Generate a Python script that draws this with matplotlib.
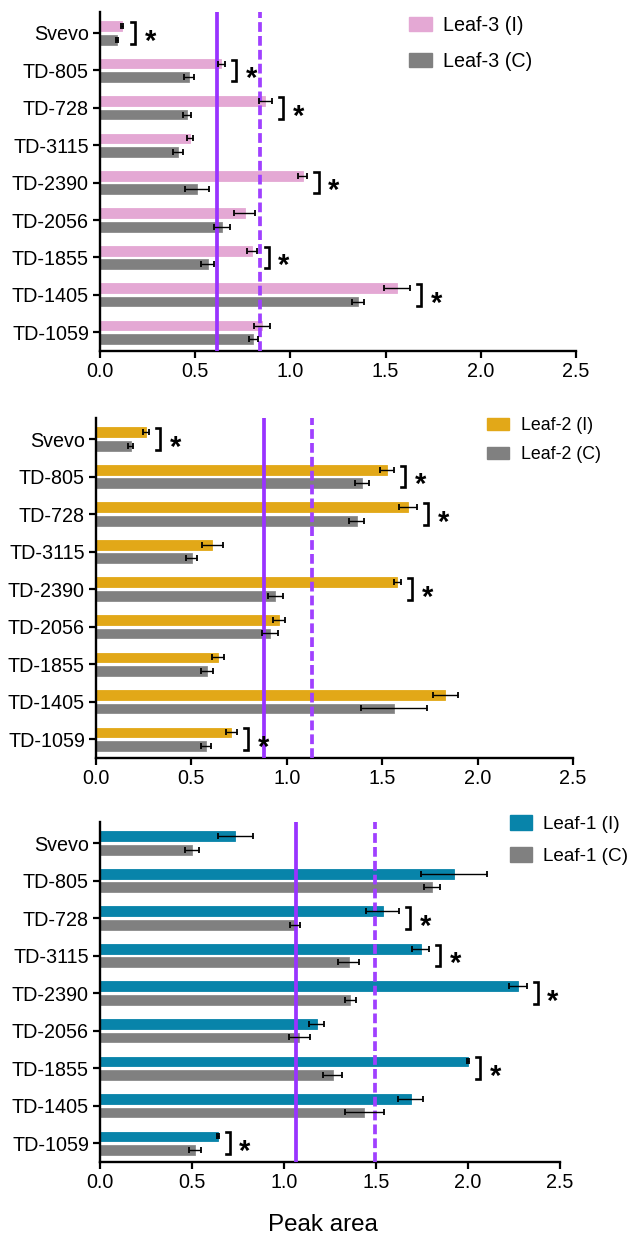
import numpy as np
import matplotlib
matplotlib.use('Agg')
import matplotlib.pyplot as plt
from matplotlib.patches import Patch

plt.rcParams['font.family'] = ['Liberation Sans', 'DejaVu Sans']

genotypes = ['Svevo', 'TD-805', 'TD-728', 'TD-3115', 'TD-2390', 'TD-2056', 'TD-1855', 'TD-1405', 'TD-1059']

# Leaf-3 (top panel)
leaf3_I = [0.116, 0.637, 0.868, 0.473, 1.065, 0.760, 0.798, 1.561, 0.851]
leaf3_I_err = [0.007, 0.018, 0.035, 0.018, 0.023, 0.055, 0.028, 0.067, 0.042]
leaf3_C = [0.088, 0.468, 0.458, 0.410, 0.510, 0.640, 0.567, 1.355, 0.805]
leaf3_C_err = [0.004, 0.025, 0.020, 0.027, 0.063, 0.042, 0.034, 0.032, 0.024]
leaf3_sig = [1, 1, 1, 0, 1, 0, 1, 1, 0]
leaf3_ref = [0.615, 0.842]   # solid, dashed

# Leaf-2 (middle panel)
leaf2_I = [0.262, 1.523, 1.634, 0.610, 1.579, 0.958, 0.640, 1.831, 0.709]
leaf2_I_err = [0.016, 0.037, 0.047, 0.057, 0.018, 0.031, 0.033, 0.064, 0.030]
leaf2_C = [0.182, 1.395, 1.367, 0.501, 0.940, 0.912, 0.583, 1.563, 0.576]
leaf2_C_err = [0.012, 0.037, 0.040, 0.028, 0.039, 0.040, 0.031, 0.172, 0.026]
leaf2_sig = [1, 1, 1, 0, 1, 0, 0, 0, 1]
leaf2_ref = [0.881, 1.130]

# Leaf-1 (bottom panel)
leaf1_I = [0.735, 1.924, 1.537, 1.743, 2.272, 1.178, 2.000, 1.689, 0.641]
leaf1_I_err = [0.094, 0.180, 0.090, 0.047, 0.049, 0.042, 0.007, 0.068, 0.006]
leaf1_C = [0.500, 1.804, 1.061, 1.352, 1.359, 1.083, 1.265, 1.437, 0.515]
leaf1_C_err = [0.037, 0.045, 0.028, 0.058, 0.030, 0.058, 0.052, 0.104, 0.034]
leaf1_sig = [0, 0, 1, 1, 1, 0, 1, 0, 1]
leaf1_ref = [1.065, 1.496]

xticks = [0.0, 0.5, 1.0, 1.5, 2.0, 2.5]

W, H = 627, 1237
fig = plt.figure(figsize=(W / 100, H / 100), dpi=100)

def px_axes(left, right, top, bottom):
    return fig.add_axes([left / W, (H - bottom) / H, (right - left) / W, (bottom - top) / H])

def panel(ax, vals_i, err_i, vals_c, err_c, sig, ref, color, name, leg):
    y = np.arange(len(genotypes))
    off, h = 0.18, 0.26
    ax.barh(y - off, vals_i, height=h, color=color, edgecolor=color, linewidth=0.6, zorder=2)
    ax.barh(y + off, vals_c, height=h, color='#808080', edgecolor='#8c8c8c', linewidth=0.6, zorder=2)
    ax.axvline(ref[0], color='#9933ff', lw=2.7, zorder=3)
    ax.axvline(ref[1], color='#a040ff', lw=2.7, ls=(0, (2.6, 1.1)), zorder=3)
    ax.errorbar(vals_i, y - off, xerr=err_i, fmt='none', ecolor='black', elinewidth=1.0,
                capsize=2.5, capthick=1.3, zorder=4)
    ax.errorbar(vals_c, y + off, xerr=err_c, fmt='none', ecolor='black', elinewidth=1.0,
                capsize=2.5, capthick=1.3, zorder=4)
    for i, s in enumerate(sig):
        if not s:
            continue
        bx = max(vals_i[i] + err_i[i], vals_c[i] + err_c[i]) + 0.06
        ax.plot([bx - 0.022, bx, bx, bx - 0.022], [i - 0.29, i - 0.29, i + 0.29, i + 0.29],
                color='black', lw=1.9, solid_joinstyle='miter', zorder=5)
        ax.annotate('*', xy=(bx + 0.08, i), xytext=(0, -12), textcoords='offset points',
                    ha='center', va='baseline', fontsize=21, fontweight='bold', zorder=5)
    ax.set_xlim(0, 2.5)
    ax.set_ylim(8.5, -0.56)
    ax.set_xticks(xticks)
    ax.set_xticklabels([f'{t:.1f}' for t in xticks])
    ax.set_yticks(y)
    ax.set_yticklabels(genotypes)
    ax.tick_params(axis='both', labelsize=14.2, width=1.6, length=5, direction='out', pad=3)
    for side in ['top', 'right']:
        ax.spines[side].set_visible(False)
    for side in ['left', 'bottom']:
        ax.spines[side].set_linewidth(1.7)
    handles = [Patch(facecolor=color, edgecolor=color), Patch(facecolor='#808080', edgecolor='#808080')]
    lx, ly, fs, hl, hh, ls, tp = leg
    ax.legend(handles, [name + ' (I)', name + ' (C)'], loc='upper left',
              bbox_to_anchor=(lx / W, (H - ly) / H), bbox_transform=fig.transFigure,
              frameon=False, borderpad=0, borderaxespad=0, fontsize=fs,
              handlelength=hl, handleheight=hh, labelspacing=ls, handletextpad=tp)

ax1 = px_axes(100, 576, 12, 351)
panel(ax1, leaf3_I, leaf3_I_err, leaf3_C, leaf3_C_err, leaf3_sig, leaf3_ref, '#e4a8d4', 'Leaf-3',
      (409, 16, 14.2, 1.17, 0.76, 0.85, 0.56))

ax2 = px_axes(96, 573, 418, 758)
panel(ax2, leaf2_I, leaf2_I_err, leaf2_C, leaf2_C_err, leaf2_sig, leaf2_ref, '#e2a818', 'Leaf-2',
      (487, 417, 12.8, 1.24, 0.67, 0.68, 0.67))

ax3 = px_axes(100, 560, 822, 1162)
panel(ax3, leaf1_I, leaf1_I_err, leaf1_C, leaf1_C_err, leaf1_sig, leaf1_ref, '#0884aa', 'Leaf-1',
      (510, 815, 13.6, 1.16, 0.84, 0.72, 0.58))

fig.text(323 / W, 6 / H, 'Peak area', ha='center', va='baseline', fontsize=17.4)

fig.savefig('out.png', dpi=100)
